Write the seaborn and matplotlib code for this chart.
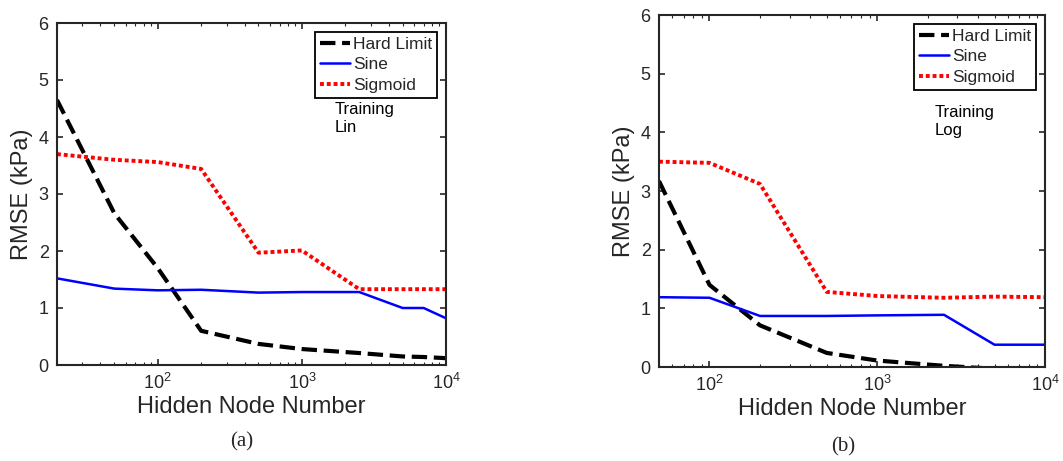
import matplotlib
matplotlib.use("Agg")
import matplotlib.pyplot as plt
import seaborn as sns
from matplotlib.ticker import LogLocator, LogFormatterMathtext, NullFormatter

# panel (a): Lin
lin_nodes = [20, 50, 100, 200, 500, 1000, 2500, 5000, 7000, 10000]
lin_hard = [4.65, 2.66, 1.7, 0.6, 0.37, 0.28, 0.21, 0.15, 0.14, 0.12]
lin_sine = [1.52, 1.34, 1.31, 1.32, 1.27, 1.28, 1.28, 1.0, 1.0, 0.82]
lin_sigm = [3.7, 3.6, 3.56, 3.44, 1.97, 2.01, 1.33, 1.33, 1.33, 1.33]

# panel (b): Log
log_nodes = [50, 100, 200, 500, 1000, 2500, 5000, 10000]
log_hard = [3.17, 1.4, 0.71, 0.24, 0.11, 0.02, -0.03, -0.05]
log_sine = [1.19, 1.18, 0.87, 0.87, 0.88, 0.89, 0.38, 0.38]
log_sigm = [3.5, 3.48, 3.12, 1.28, 1.21, 1.18, 1.2, 1.19]

sns.set_style("ticks")
plt.rcParams["font.family"] = ["Liberation Sans", "DejaVu Sans"]
plt.rcParams["mathtext.default"] = "regular"

INK = "#262626"

fig = plt.figure(figsize=(10.63, 4.61), dpi=100)
ax_a = fig.add_axes([57 / 1063, 96 / 461, 389 / 1063, 342 / 461])
ax_b = fig.add_axes([659 / 1063, 94 / 461, 386 / 1063, 352 / 461])


def draw_panel(ax, nodes, hard, sine, sigm, xmin, note):
    sns.lineplot(x=nodes, y=hard, ax=ax, color="black", lw=3.0,
                 linestyle="--", label="Hard Limit")
    sns.lineplot(x=nodes, y=sine, ax=ax, color="#0000ff", lw=1.8,
                 label="Sine")
    sns.lineplot(x=nodes, y=sigm, ax=ax, color="#ff0000", lw=2.8,
                 label="Sigmoid")
    ax.lines[-1].set_dashes((1, 0.75))
    ax.set_xscale("log")
    ax.set_xlim(xmin, 10000)
    ax.set_ylim(0, 6)
    ax.set_yticks(range(0, 7))
    ax.xaxis.set_major_locator(LogLocator(base=10, numticks=10))
    ax.xaxis.set_major_formatter(LogFormatterMathtext())
    ax.xaxis.set_minor_locator(LogLocator(base=10, subs=range(2, 10), numticks=20))
    ax.xaxis.set_minor_formatter(NullFormatter())
    ax.tick_params(axis="both", which="major", direction="in", length=4,
                   width=1.2, color=INK, labelcolor=INK, labelsize=13,
                   top=True, right=True, pad=6)
    ax.tick_params(axis="x", which="minor", direction="in", length=2,
                   width=0.8, color=INK, top=True)
    for sp in ax.spines.values():
        sp.set_color(INK)
        sp.set_linewidth(1.5)
    ax.set_xlabel("Hidden Node Number", fontsize=17, color=INK, labelpad=2)
    ax.set_ylabel("RMSE (kPa)", fontsize=17, color=INK, labelpad=4)
    leg = ax.legend(loc="upper right", fontsize=12.5, frameon=True,
                    fancybox=False, edgecolor="black", framealpha=1,
                    borderaxespad=0.5, handlelength=1.75, handletextpad=0.15,
                    labelspacing=0.3, borderpad=0.3)
    leg.get_frame().set_linewidth(1.3)
    ax.text(0.713, 0.77 if note == "Lin" else 0.745, "Training\n" + note,
            transform=ax.transAxes, ha="left", va="top", fontsize=12,
            linespacing=1.25, color="black")


draw_panel(ax_a, lin_nodes, lin_hard, lin_sine, lin_sigm, 20, "Lin")
draw_panel(ax_b, log_nodes, log_hard, log_sine, log_sigm, 50, "Log")

fig.text(242 / 1063, 1 - 442 / 461, "(a)", ha="center", va="center",
         fontsize=15, family=["Liberation Serif"])
fig.text(843 / 1063, 1 - 447 / 461, "(b)", ha="center", va="center",
         fontsize=15, family=["Liberation Serif"])

fig.savefig("out.png", dpi=100)
